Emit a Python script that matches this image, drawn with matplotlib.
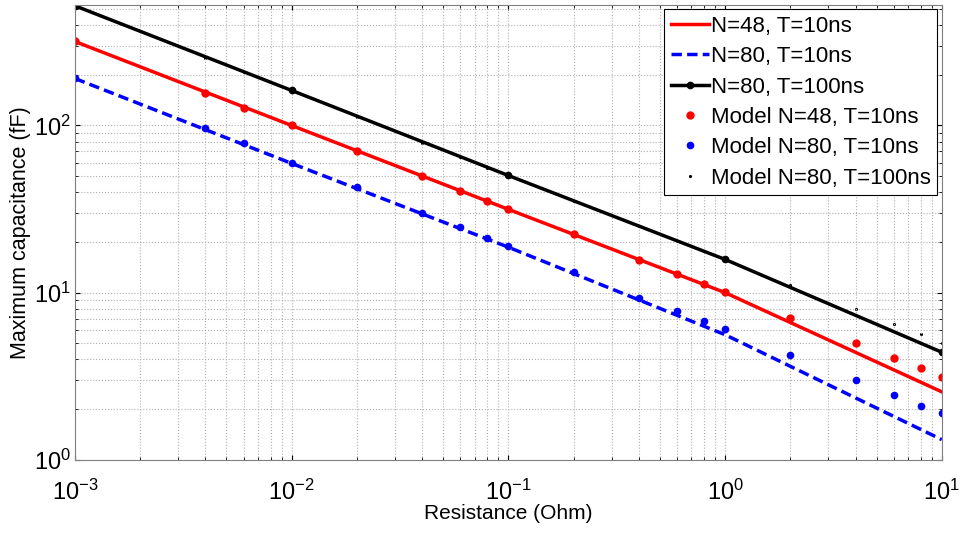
import matplotlib

matplotlib.use("Agg")
import matplotlib.pyplot as plt
from matplotlib.ticker import LogLocator

plt.rcParams.update({
    "font.family": ["Liberation Sans", "DejaVu Sans"],
    "mathtext.default": "regular",
    "font.size": 14,
})

# simulated curves (decade points)
r_line = [1e-3, 1e-2, 1e-1, 1, 10]
c_n48_t10 = [318, 100, 31.5, 10.0, 2.55]
c_n80_t10 = [191, 59.3, 18.7, 5.6, 1.32]
c_n80_t100 = [520, 162, 50.2, 15.8, 4.4]

# model points
r_model = [1e-3, 0.004, 0.006, 0.01, 0.02, 0.04, 0.06, 0.08, 0.1, 0.2,
           0.4, 0.6, 0.8, 1, 2, 4, 6, 8, 10]
m_n48_t10 = [318, 157, 128, 100, 70, 49.6, 40.4, 35.2, 31.5, 22.4,
             15.6, 12.9, 11.2, 10.05, 7.04, 5.0, 4.06, 3.54, 3.13]
m_n80_t10 = [191, 96, 78, 60, 42.6, 29.8, 24.6, 21.2, 18.9, 13.3,
             9.27, 7.76, 6.76, 6.05, 4.24, 3.0, 2.44, 2.10, 1.91]
m_n80_t100 = [520, 255, 208, 162, 113, 79, 65, 56, 50.2, 35.5,
              25, 20.5, 17.7, 15.8, 11.1, 7.97, 6.49, 5.65, 5.0]

fig = plt.figure(figsize=(9.6, 5.34), dpi=100)
ax = fig.add_axes([0.078, 0.139, 0.903, 0.852])

ax.loglog(r_line, c_n48_t10, color="red", lw=2.5, label="N=48, T=10ns")
ax.loglog(r_line, c_n80_t10, color="blue", lw=2.5, ls=(0, (3, 1.5)), label="N=80, T=10ns")
ax.loglog(r_line, c_n80_t100, color="black", lw=2.5, marker=".", ms=9, label="N=80, T=100ns")
ax.loglog(r_model, m_n48_t10, ls="none", marker=".", color="red", ms=10, label="Model N=48, T=10ns")
ax.loglog(r_model, m_n80_t10, ls="none", marker=".", color="blue", ms=9, label="Model N=80, T=10ns")
ax.loglog(r_model, m_n80_t100, ls="none", marker=".", color="black", ms=2.5, zorder=1.5,
          label="Model N=80, T=100ns")

ax.set_xlim(1e-3, 10)
ax.set_ylim(1, 527)
ax.xaxis.set_major_locator(LogLocator(base=10, numticks=10))
ax.yaxis.set_major_locator(LogLocator(base=10, numticks=10))
ax.grid(True, which="both", ls=":", color="#b0b0b0", lw=0.8)
ax.tick_params(which="both", direction="in", top=True, right=True, labelsize=17)
ax.tick_params(axis="x", pad=14)
ax.tick_params(axis="y", pad=3)
for s in ax.spines.values():
    s.set_color("#808080")

ax.set_xlabel("Resistance (Ohm)", fontsize=15, labelpad=0)
ax.set_ylabel("Maximum capacitance (fF)", fontsize=15.5, labelpad=2)

leg = ax.legend(loc="upper right", fontsize=16, frameon=True, fancybox=False,
                edgecolor="black", framealpha=1, handlelength=1.7, handletextpad=0.1,
                labelspacing=0.42, borderaxespad=0.2, borderpad=0.3)
leg.get_frame().set_linewidth(0.8)

fig.savefig("out.png", dpi=100)
